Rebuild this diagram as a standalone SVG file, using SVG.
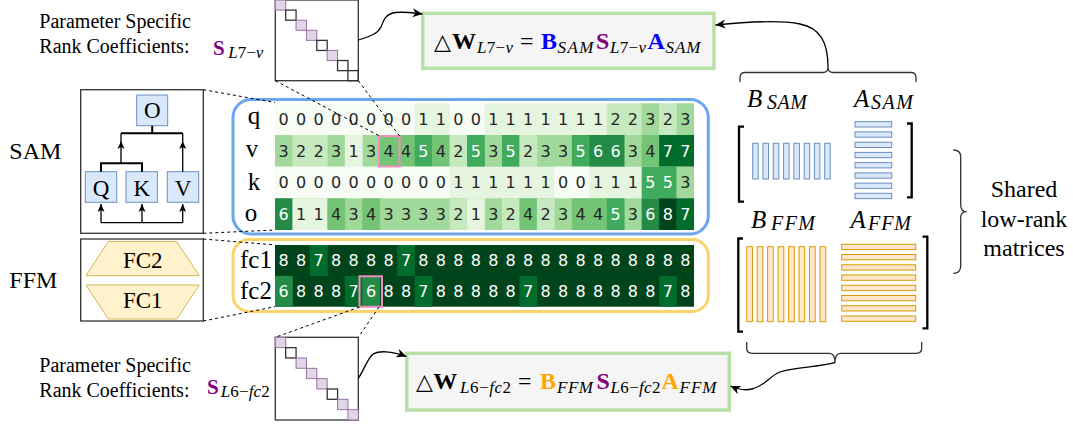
<svg xmlns="http://www.w3.org/2000/svg" width="1073" height="428" viewBox="0 0 1073 428">
<defs>
<style>
text{font-family:"Liberation Serif","Times New Roman",serif;fill:#000}
.num{font-family:"DejaVu Sans",sans-serif;font-size:16px;text-anchor:middle;fill:#262626}
.num.w{fill:#fff}
.g0{fill:#f7fcf5}.g1{fill:#e5f5e0}.g2{fill:#c7e9c0}.g3{fill:#a1d99b}.g4{fill:#74c476}.g5{fill:#41ab5d}.g6{fill:#238b45}.g7{fill:#006d2c}.g8{fill:#00441b}
.rl{font-size:25px;text-anchor:middle}
.big{font-size:24px}
.mb{font-size:25px}
.in{font-size:23px;text-anchor:middle}
.par{font-size:20px}
.it{font-style:italic}
.up{font-style:normal}
.bd{font-weight:bold}
.m{font-size:24px}
.tri{font-family:"DejaVu Sans",sans-serif;font-size:22px}
.sub{font-style:italic;font-size:17px}
.msub{font-style:italic;font-size:20px}
.dash{stroke:#000;stroke-width:1;stroke-dasharray:3 3;fill:none}
.conn{stroke:#000;stroke-width:1.3;fill:none}
.ln{stroke:#000;stroke-width:1.3;fill:none}
.lnb{stroke:#000;stroke-width:2;fill:none}
.pu{fill:#e1d5e7;stroke:#9673a6;stroke-width:1}
.bk{fill:none;stroke:#333;stroke-width:1.3}
.panel{fill:#fff;stroke:#333;stroke-width:1.3}
.blue{fill:#dae8fc;stroke:#6c8ebf;stroke-width:1}
.orng{fill:#ffe6cc;stroke:#d79b00;stroke-width:1}
.fc{fill:#fff2cc;stroke:#d6b656;stroke-width:1}
.fbox{fill:#f5f5f5;stroke:#b9e0a5;stroke-width:3.5}
.brk{fill:none;stroke:#000;stroke-width:2.3}
.brace{fill:none;stroke:#333;stroke-width:1.3}
.pink{fill:none;stroke:#f28cbc;stroke-width:2}
.cP{fill:#800080}.cB{fill:#0000ff}.cO{fill:#ffa500}
</style>
<marker id="ah" markerUnits="userSpaceOnUse" markerWidth="12" markerHeight="12" viewBox="0 0 12 12" refX="11" refY="6" orient="auto">
<path d="M1,1.5 L11,6 L1,10.5 L4,6 Z" fill="#000"/>
</marker>
</defs>
<rect width="1073" height="428" fill="#fff"/>

<!-- left labels -->
<text class="big" x="9.3" y="159">SAM</text>
<text class="big" x="9.3" y="287.7">FFM</text>

<!-- SAM panel -->
<g id="sam-panel">
<rect class="panel" x="80.7" y="89.7" width="122.6" height="143.6"/>
<g id="node-O"><rect class="blue" x="136.7" y="95" width="31" height="30.7"/><text class="in" x="152.2" y="118">O</text></g>
<g id="node-Q"><rect class="blue" x="85.3" y="171.7" width="31.4" height="30.6"/><text class="in" x="101" y="195.5">Q</text></g>
<g id="node-K"><rect class="blue" x="126" y="171.7" width="31.4" height="30.6"/><text class="in" x="141.7" y="195.5">K</text></g>
<g id="node-V"><rect class="blue" x="167.3" y="171.7" width="31.4" height="30.6"/><text class="in" x="183" y="195.5">V</text></g>
<g id="sam-edges">
<path class="lnb" d="M152.2,125.7 V133.3 M121,133.3 H182.7"/>
<path class="ln" d="M121,163.3 V133.3 M182.7,171.7 V133.3"/>
<path class="lnb" d="M101,171.7 V163.3 H142 V171.7"/>
<path class="ln" d="M101,222.7 H182.7 M101,222.7 V204 M142,222.7 V204 M182.7,222.7 V204"/>
<path d="M121,141 L117.5,149 L121,147 L124.5,149 Z M182.7,141 L179.2,149 L182.7,147 L186.2,149 Z M101,204 L97.5,212 L101,210 L104.5,212 Z M142,204 L138.5,212 L142,210 L145.5,212 Z M182.7,204 L179.2,212 L182.7,210 L186.2,212 Z" fill="#000"/>
</g>
</g>

<!-- FFM panel -->
<g id="ffm-panel">
<rect class="panel" x="80.7" y="239" width="122.6" height="82"/>
<g id="node-FC2"><polygon class="fc" points="108.3,241.5 176.7,241.5 199.3,275.7 86,275.7"/><text class="in" x="142.7" y="267.7">FC2</text></g>
<g id="node-FC1"><polygon class="fc" points="86,285 199.3,285 176.7,319 108.3,319"/><text class="in" x="142.7" y="308">FC1</text></g>
</g>

<!-- SAM heatmap -->
<g id="sam-heatmap">
<rect x="233" y="99.5" width="475.3" height="134.5" rx="18" fill="#fff" stroke="#6aa7f0" stroke-width="3"/>
<!-- q -->
<rect class="g0" x="275" y="103.3" width="419.04" height="32"/>
<rect class="g1" x="414.68" y="103.3" width="35.2" height="32"/>
<rect class="g1" x="484.52" y="103.3" width="122.5" height="32"/>
<rect class="g2" x="606.74" y="103.3" width="35.2" height="32"/>
<rect class="g3" x="641.66" y="103.3" width="17.8" height="32"/>
<rect class="g2" x="659.12" y="103.3" width="17.8" height="32"/>
<rect class="g3" x="676.58" y="103.3" width="17.46" height="32"/>
<!-- v -->
<rect class="g3" x="275" y="135" width="419.04" height="32"/>
<rect class="g2" x="292.46" y="135" width="35.2" height="32"/>
<rect class="g1" x="344.84" y="135" width="17.8" height="32"/>
<rect class="g4" x="379.76" y="135" width="35.2" height="32"/>
<rect class="g5" x="414.68" y="135" width="17.8" height="32"/>
<rect class="g4" x="432.14" y="135" width="17.8" height="32"/>
<rect class="g2" x="449.6" y="135" width="17.8" height="32"/>
<rect class="g5" x="467.06" y="135" width="17.8" height="32"/>
<rect class="g5" x="501.98" y="135" width="17.8" height="32"/>
<rect class="g2" x="519.44" y="135" width="17.8" height="32"/>
<rect class="g5" x="571.82" y="135" width="17.8" height="32"/>
<rect class="g6" x="589.28" y="135" width="35.2" height="32"/>
<rect class="g4" x="641.66" y="135" width="17.8" height="32"/>
<rect class="g7" x="659.12" y="135" width="34.92" height="32"/>
<!-- k -->
<rect class="g1" x="275" y="166.7" width="419.04" height="32"/>
<rect class="g0" x="275" y="166.7" width="174.9" height="32"/>
<rect class="g0" x="554.36" y="166.7" width="35.2" height="32"/>
<rect class="g5" x="641.66" y="166.7" width="35.2" height="32"/>
<rect class="g3" x="676.58" y="166.7" width="17.46" height="32"/>
<!-- o -->
<rect class="g3" x="275" y="198.3" width="419.04" height="31.7"/>
<rect class="g6" x="275" y="198.3" width="17.8" height="31.7"/>
<rect class="g1" x="292.46" y="198.3" width="35.2" height="31.7"/>
<rect class="g4" x="327.38" y="198.3" width="17.8" height="31.7"/>
<rect class="g4" x="362.3" y="198.3" width="17.8" height="31.7"/>
<rect class="g2" x="449.6" y="198.3" width="17.8" height="31.7"/>
<rect class="g1" x="467.06" y="198.3" width="17.8" height="31.7"/>
<rect class="g2" x="501.98" y="198.3" width="17.8" height="31.7"/>
<rect class="g4" x="519.44" y="198.3" width="17.8" height="31.7"/>
<rect class="g2" x="536.9" y="198.3" width="17.8" height="31.7"/>
<rect class="g4" x="571.82" y="198.3" width="35.2" height="31.7"/>
<rect class="g5" x="606.74" y="198.3" width="17.8" height="31.7"/>
<rect class="g6" x="641.66" y="198.3" width="17.8" height="31.7"/>
<rect class="g8" x="659.12" y="198.3" width="17.8" height="31.7"/>
<rect class="g7" x="676.58" y="198.3" width="17.46" height="31.7"/>
<!-- row labels -->
<text class="rl" x="254" y="124">q</text>
<text class="rl" x="252" y="157">v</text>
<text class="rl" x="254" y="190">k</text>
<text class="rl" x="251" y="221">o</text>
<!-- numbers: q -->
<text class="num" y="125" x="283.7 301.2 318.7 336.1 353.6 371 388.5 406 423.4 440.9 458.3 475.8 493.3 510.7 528.2 545.6 563.1 580.6 598 615.5 632.9 650.4 667.9 685.3">000000001100111111122323</text>
<!-- v -->
<text class="num" y="156.7" x="283.7 301.2 318.7 336.1 353.6 371 388.5 406">32231344</text>
<text class="num w" y="156.7" x="423.4">5</text>
<text class="num" y="156.7" x="440.9 458.3">42</text>
<text class="num w" y="156.7" x="475.8">5</text>
<text class="num" y="156.7" x="493.3">3</text>
<text class="num w" y="156.7" x="510.7">5</text>
<text class="num" y="156.7" x="528.2 545.6 563.1">233</text>
<text class="num w" y="156.7" x="580.6 598 615.5">566</text>
<text class="num" y="156.7" x="632.9 650.4">34</text>
<text class="num w" y="156.7" x="667.9 685.3">77</text>
<!-- k -->
<text class="num" y="188.3" x="283.7 301.2 318.7 336.1 353.6 371 388.5 406 423.4 440.9 458.3 475.8 493.3 510.7 528.2 545.6 563.1 580.6 598 615.5 632.9">000000000011111100111</text>
<text class="num w" y="188.3" x="650.4 667.9">55</text>
<text class="num" y="188.3" x="685.3">3</text>
<!-- o -->
<text class="num w" y="220" x="283.7">6</text>
<text class="num" y="220" x="301.2 318.7 336.1 353.6 371 388.5 406 423.4 440.9 458.3 475.8 493.3 510.7 528.2 545.6 563.1 580.6 598">114343333213242344</text>
<text class="num w" y="220" x="615.5">5</text>
<text class="num" y="220" x="632.9">3</text>
<text class="num w" y="220" x="650.4 667.9 685.3">687</text>
<rect class="pink" x="379" y="136" width="20.5" height="30.5"/>
</g>

<!-- FFM heatmap -->
<g id="ffm-heatmap">
<rect x="233" y="239.5" width="475.3" height="72" rx="16" fill="#fff" stroke="#fad46b" stroke-width="3"/>
<rect class="g8" x="275" y="245" width="419.04" height="61.7"/>
<rect class="g7" x="309.92" y="245" width="17.8" height="31"/>
<rect class="g7" x="397.22" y="245" width="17.8" height="31"/>
<rect class="g6" x="275" y="275.85" width="17.8" height="30.85"/>
<rect class="g7" x="344.84" y="275.85" width="17.8" height="30.85"/>
<rect class="g6" x="362.3" y="275.85" width="17.8" height="30.85"/>
<rect class="g7" x="414.68" y="275.85" width="17.8" height="30.85"/>
<rect class="g7" x="519.44" y="275.85" width="17.8" height="30.85"/>
<rect class="g7" x="659.12" y="275.85" width="17.8" height="30.85"/>
<text class="rl" x="256" y="268">fc1</text>
<text class="rl" x="256" y="298.5">fc2</text>
<text class="num w" y="266.2" x="283.7 301.2 318.7 336.1 353.6 371 388.5 406 423.4 440.9 458.3 475.8 493.3 510.7 528.2 545.6 563.1 580.6 598 615.5 632.9 650.4 667.9 685.3">887888878888888888888888</text>
<text class="num w" y="297.1" x="283.7 301.2 318.7 336.1 353.6 371 388.5 406 423.4 440.9 458.3 475.8 493.3 510.7 528.2 545.6 563.1 580.6 598 615.5 632.9 650.4 667.9 685.3">688876887888887888888878</text>
<rect class="pink" x="359.5" y="276.3" width="22.5" height="30.5"/>
</g>

<!-- Top S matrix -->
<g id="s-top">
<text class="par" x="39.3" y="28.3">Parameter Specific</text>
<text class="par" x="39.3" y="53.3">Rank Coefficients:</text>
<text class="bd cP" x="213" y="55" font-size="21">S</text>
<text class="sub" x="228.3" y="57.5" font-size="15" textLength="35">L<tspan class="up">7−</tspan>v</text>
<rect class="bk" x="275.3" y="0" width="83" height="80.7"/>
<rect class="pu" x="275.3" y="0" width="10.4" height="10.1"/>
<rect class="bk" x="285.68" y="10.09" width="10.4" height="10.1"/>
<rect class="pu" x="296.05" y="20.18" width="10.4" height="10.1"/>
<rect class="pu" x="306.43" y="30.27" width="10.4" height="10.1"/>
<rect class="bk" x="316.8" y="40.36" width="10.4" height="10.1"/>
<rect class="pu" x="327.18" y="50.45" width="10.4" height="10.1"/>
<rect class="bk" x="337.55" y="60.54" width="10.4" height="10.1"/>
<rect class="bk" x="347.93" y="70.63" width="10.4" height="10.1"/>
</g>

<!-- Bottom S matrix -->
<g id="s-bottom">
<text class="par" x="39.3" y="371.7">Parameter Specific</text>
<text class="par" x="39.3" y="396.7">Rank Coefficients:</text>
<text class="bd cP" x="207" y="394" font-size="21">S</text>
<text class="sub" x="220.7" y="396.7" textLength="49">L<tspan class="up">6−</tspan>fc<tspan class="up">2</tspan></text>
<rect class="bk" x="275.3" y="337.3" width="83" height="82.7"/>
<rect class="pu" x="275.3" y="337.3" width="10.4" height="10.3"/>
<rect class="bk" x="285.68" y="347.64" width="10.4" height="10.3"/>
<rect class="pu" x="296.05" y="357.98" width="10.4" height="10.3"/>
<rect class="pu" x="306.43" y="368.32" width="10.4" height="10.3"/>
<rect class="pu" x="316.8" y="378.66" width="10.4" height="10.3"/>
<rect class="bk" x="327.18" y="389" width="10.4" height="10.3"/>
<rect class="pu" x="337.55" y="399.34" width="10.4" height="10.3"/>
<rect class="pu" x="347.93" y="409.68" width="10.4" height="10.3"/>
</g>

<!-- Top formula -->
<g id="formula-top">
<rect class="fbox" x="422.7" y="13.3" width="291.3" height="55"/>
<text class="tri" x="434" y="49">△</text>
<text class="bd m" x="452" y="49">W</text>
<text class="sub" x="477" y="53" textLength="36">L<tspan class="up">7−</tspan>v</text>
<text class="m" x="520" y="49">=</text>
<text class="bd m cB" x="541" y="49">B</text>
<text class="sub" x="557.5" y="53" textLength="36">SAM</text>
<text class="bd m cP" x="596" y="49">S</text>
<text class="sub" x="610" y="53" textLength="36">L<tspan class="up">7−</tspan>v</text>
<text class="bd m cB" x="647.5" y="49">A</text>
<text class="sub" x="665.5" y="53" textLength="35">SAM</text>
</g>

<!-- Bottom formula -->
<g id="formula-bottom">
<rect class="fbox" x="406.7" y="353.3" width="322.6" height="56.7"/>
<text class="tri" x="416" y="389">△</text>
<text class="bd m" x="433.3" y="389">W</text>
<text class="sub" x="460" y="392.5" textLength="51">L<tspan class="up">6−</tspan>fc<tspan class="up">2</tspan></text>
<text class="m" x="518" y="389">=</text>
<text class="bd m cO" x="540" y="389">B</text>
<text class="sub" x="557" y="392.5" textLength="36">FFM</text>
<text class="bd m cP" x="596.5" y="389">S</text>
<text class="sub" x="610.5" y="392.5" textLength="50">L<tspan class="up">6−</tspan>fc<tspan class="up">2</tspan></text>
<text class="bd m cO" x="661.5" y="389">A</text>
<text class="sub" x="679.5" y="392.5" textLength="37">FFM</text>
</g>

<!-- Shared matrices -->
<g id="shared-matrices">
<text class="it mb" x="747" y="106.7">B</text>
<text class="msub" x="767" y="108.5" textLength="40">SAM</text>
<text class="it mb" x="854" y="106.7">A</text>
<text class="msub" x="871" y="108.5" textLength="42">SAM</text>
<text class="it mb" x="751" y="228.3">B</text>
<text class="msub" x="771" y="230" textLength="44">FFM</text>
<text class="it mb" x="850.5" y="228.3">A</text>
<text class="msub" x="868" y="230" textLength="43">FFM</text>
<path class="brk" d="M744,126.7 H739 V201.7 H744 M907,123.5 H911.7 V197.3 H907 M743,238.5 H738.3 V331.7 H743 M922.5,236.7 H927.3 V328.3 H922.5"/>
<g id="b-sam">
<rect class="blue" x="752.7" y="143.3" width="5.5" height="35.7"/>
<rect class="blue" x="763" y="143.3" width="5.5" height="35.7"/>
<rect class="blue" x="773.3" y="143.3" width="5.5" height="35.7"/>
<rect class="blue" x="783.6" y="143.3" width="5.5" height="35.7"/>
<rect class="blue" x="793.9" y="143.3" width="5.5" height="35.7"/>
<rect class="blue" x="804.2" y="143.3" width="5.5" height="35.7"/>
<rect class="blue" x="814.4" y="143.3" width="5.5" height="35.7"/>
<rect class="blue" x="824.7" y="143.3" width="5.5" height="35.7"/>
</g>
<g id="a-sam">
<rect class="blue" x="855" y="121.7" width="36.7" height="5.3"/>
<rect class="blue" x="855" y="131.9" width="36.7" height="5.3"/>
<rect class="blue" x="855" y="142.2" width="36.7" height="5.3"/>
<rect class="blue" x="855" y="152.4" width="36.7" height="5.3"/>
<rect class="blue" x="855" y="162.6" width="36.7" height="5.3"/>
<rect class="blue" x="855" y="172.9" width="36.7" height="5.3"/>
<rect class="blue" x="855" y="183.1" width="36.7" height="5.3"/>
<rect class="blue" x="855" y="193.3" width="36.7" height="5.3"/>
</g>
<g id="b-ffm">
<rect class="orng" x="746.7" y="246.7" width="5.7" height="75"/>
<rect class="orng" x="757.2" y="246.7" width="5.7" height="75"/>
<rect class="orng" x="767.6" y="246.7" width="5.7" height="75"/>
<rect class="orng" x="778.1" y="246.7" width="5.7" height="75"/>
<rect class="orng" x="788.6" y="246.7" width="5.7" height="75"/>
<rect class="orng" x="799" y="246.7" width="5.7" height="75"/>
<rect class="orng" x="809.5" y="246.7" width="5.7" height="75"/>
<rect class="orng" x="820" y="246.7" width="5.7" height="75"/>
</g>
<g id="a-ffm">
<rect class="orng" x="841.7" y="244.3" width="74" height="5.3"/>
<rect class="orng" x="841.7" y="254.5" width="74" height="5.3"/>
<rect class="orng" x="841.7" y="264.8" width="74" height="5.3"/>
<rect class="orng" x="841.7" y="275" width="74" height="5.3"/>
<rect class="orng" x="841.7" y="285.3" width="74" height="5.3"/>
<rect class="orng" x="841.7" y="295.5" width="74" height="5.3"/>
<rect class="orng" x="841.7" y="305.7" width="74" height="5.3"/>
<rect class="orng" x="841.7" y="316" width="74" height="5.3"/>
</g>
<path class="brace" d="M740,82 V77.5 Q740,72.5 745,72.5 H823 Q828,72.5 828,67 Q828,72.5 833,72.5 H911 Q916,72.5 916,77.5 V82"/>
<path class="brace" d="M746.7,342 V348 Q746.7,353.3 752,353.3 H829.5 Q835,353.3 835,362.7 Q835,353.3 840.5,353.3 H916.5 Q921.7,353.3 921.7,348 V342"/>
<path class="brace" d="M953.3,150 Q960.7,150 960.7,157 V205 Q960.7,211.7 966.7,211.7 Q960.7,211.7 960.7,218 V266 Q960.7,273.3 953.3,273.3"/>
<text class="big" x="1024" y="197" text-anchor="middle">Shared</text>
<text class="big" x="1024" y="227" text-anchor="middle">low-rank</text>
<text class="big" x="1024" y="256" text-anchor="middle">matrices</text>
</g>

<!-- connectors -->
<g id="connectors">
<path class="dash" d="M203.3,89.7 L275,102.5 M203.3,233.3 L275,230 M203.3,239 L275,245 M203.3,321 L275,306.7"/>
<path class="dash" d="M275.3,80.7 L379.5,136 M358.3,80.7 L399.5,136"/>
<path class="dash" d="M359.5,307 L275.3,337.3 M379,307 L358.3,337.3"/>
<path class="conn" marker-end="url(#ah)" d="M358.3,40 C372,36 378,33 381,27 C384,19 386,14 395,12.5 C405,11.5 414,13 422.5,14"/>
<path class="conn" marker-end="url(#ah)" d="M828,67 C828,42 820,28 800,24 C780,20 745,22 715.5,25"/>
<path class="conn" marker-end="url(#ah)" d="M358.3,378.3 C364,370 367,360 372,355 C378,350 392,351 406.5,356.5"/>
<path class="conn" marker-end="url(#ah)" d="M835,362.7 C820,367 795,367 780,372 C768,377 765,386 752,389 C744,391 737,389 730.5,386"/>
</g>
</svg>
